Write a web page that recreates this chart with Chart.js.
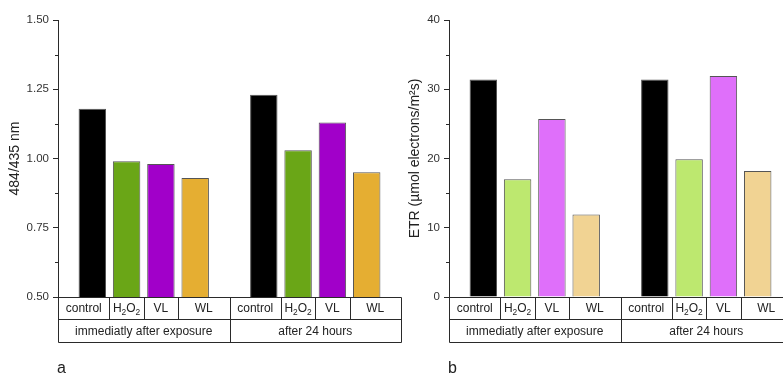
<!DOCTYPE html>
<html>
<head>
<meta charset="utf-8">
<script src="https://cdn.jsdelivr.net/npm/chart.js@4"></script>
<style>
  html, body { margin: 0; padding: 0; background: #fff; overflow: hidden; width: 783px; height: 377px; }
  canvas { position: absolute; top: 0; }
  #chart-a { left: 0; }
  #chart-b { left: 391px; }
</style>
</head>
<body>
<canvas id="chart-a" width="410" height="377"></canvas>
<canvas id="chart-b" width="410" height="377"></canvas>
<script>
// slots on the x axis; empty strings are the gaps between groups
const categories = ['', 'control', 'H₂O₂', 'VL', 'WL', '', 'control', 'H₂O₂', 'VL', 'WL', ''];
const groups = ['immediatly after exposure', 'after 24 hours'];

// panel a: 484/435 nm ratio
const ratioValues = [null, 1.18, 0.99, 0.98, 0.93, null, 1.23, 1.03, 1.13, 0.95, null];
const ratioColors = ['#000', '#000000', '#6aa617', '#a100c9', '#e5ae32', '#000', '#000000', '#6aa617', '#a100c9', '#e5ae32', '#000'];

// panel b: ETR
const etrValues = [null, 31.4, 17.0, 25.7, 11.9, null, 31.4, 19.9, 31.9, 18.2, null];
const etrColors = ['#000', '#000000', '#bde86f', '#df6ffa', '#f1d393', '#000', '#000000', '#bde86f', '#df6ffa', '#f1d393', '#000'];

const FONT = 'Arial, "Liberation Sans", sans-serif';
const LINE = '#2a2a2a';

// draw text, with ₂ drawn as a small lowered 2
function drawRich(ctx, text, cx, cy, size) {
    const parts = [];
    for (const ch of text) {
        const sub = ch === '₂';
        parts.push({ t: sub ? '2' : ch, sub: sub });
    }
    const widthOf = p => {
        ctx.font = (p.sub ? size * 0.7 : size) + 'px ' + FONT;
        return ctx.measureText(p.t).width;
    };
    const total = parts.reduce((s, p) => s + widthOf(p), 0);
    let x = cx - total / 2;
    ctx.textAlign = 'left';
    ctx.textBaseline = 'middle';
    parts.forEach(p => {
        const w = widthOf(p);
        ctx.fillText(p.t, x, p.sub ? cy + size * 0.3 : cy);
        x += w;
    });
}

// category table under the plot, minor ticks and panel letter
const tablePlugin = {
    id: 'tablePlugin',
    afterDraw(chart, args, opts) {
        const ctx = chart.ctx;
        const xs = chart.scales.x;
        const ys = chart.scales.y;
        const area = chart.chartArea;
        const row1 = area.bottom + 22;
        const row2 = row1 + 23;
        const px = v => Math.round(xs.getPixelForValue(v)) + 0.5;

        ctx.save();
        ctx.strokeStyle = LINE;
        ctx.lineWidth = 1;
        ctx.fillStyle = '#222';

        // minor ticks
        const step = opts.step;
        for (let v = ys.min + step / 2; v < ys.max; v += step) {
            const y = Math.round(ys.getPixelForValue(v)) + 0.5;
            ctx.beginPath();
            ctx.moveTo(area.left - 3, y);
            ctx.lineTo(area.left, y);
            ctx.stroke();
        }

        // cell edges: empty slots and midpoints between labelled slots
        const edges = [];
        categories.forEach((c, i) => {
            if (c === '') edges.push(i);
            else if (i + 1 < categories.length && categories[i + 1] !== '') edges.push(i + 0.5);
        });
        const gapEdges = categories.map((c, i) => c === '' ? i : null).filter(v => v !== null);

        // horizontal lines
        const left = px(0), right = px(categories.length - 1);
        [area.bottom, row1, row2].forEach(y => {
            const yy = Math.round(y) + 0.5;
            ctx.beginPath();
            ctx.moveTo(left, yy);
            ctx.lineTo(right, yy);
            ctx.stroke();
        });
        // vertical lines
        edges.forEach(e => {
            const x = px(e);
            const isGap = gapEdges.includes(e);
            ctx.beginPath();
            ctx.moveTo(x, Math.round(area.bottom) + 0.5);
            ctx.lineTo(x, Math.round(isGap ? row2 : row1) + 0.5);
            ctx.stroke();
        });

        // labels row 1
        categories.forEach((c, i) => {
            if (c === '') return;
            const a = edges.filter(e => e < i).pop();
            const b = edges.find(e => e > i);
            drawRich(ctx, c, (xs.getPixelForValue(a) + xs.getPixelForValue(b)) / 2, (area.bottom + row1) / 2 + 1, 12);
        });
        // labels row 2
        groups.forEach((g, k) => {
            const a = gapEdges[k], b = gapEdges[k + 1];
            drawRich(ctx, g, (xs.getPixelForValue(a) + xs.getPixelForValue(b)) / 2, (row1 + row2) / 2 + 1, 12);
        });

        // panel letter
        ctx.font = '16px ' + FONT;
        ctx.textAlign = 'left';
        ctx.textBaseline = 'alphabetic';
        ctx.fillText(opts.letter, area.left - 1, 373);
        ctx.restore();
    }
};

function makeChart(id, values, colors, yMin, yMax, step, decimals, title, titlePad, letter) {
    return new Chart(document.getElementById(id), {
        type: 'bar',
        data: {
            labels: categories,
            datasets: [{
                data: values,
                backgroundColor: colors,
                borderColor: '#555',
                borderWidth: 1,
                barPercentage: 0.8,
                categoryPercentage: 1.0
            }]
        },
        options: {
            responsive: false,
            animation: false,
            devicePixelRatio: 1,
            layout: { padding: { left: 0, top: 20, right: 9, bottom: 80 } },
            plugins: {
                legend: { display: false },
                tooltip: { enabled: false },
                tablePlugin: { step: step, letter: letter }
            },
            scales: {
                x: { type: 'category', offset: false, display: false },
                y: {
                    min: yMin,
                    max: yMax,
                    afterFit: scale => { scale.width = 58; },
                    border: { display: true, color: LINE, width: 1 },
                    grid: { drawOnChartArea: false, drawTicks: true, tickLength: 5, tickColor: LINE },
                    ticks: {
                        stepSize: step,
                        padding: 4,
                        color: '#333',
                        font: { family: FONT, size: 11.5 },
                        callback: v => Number(v).toFixed(decimals)
                    },
                    title: {
                        display: true,
                        text: title,
                        color: '#222',
                        font: { family: FONT, size: 14 },
                        padding: { top: titlePad, bottom: 0 }
                    }
                }
            }
        },
        plugins: [tablePlugin]
    });
}

makeChart('chart-a', ratioValues, ratioColors, 0.5, 1.5, 0.25, 2, '484/435 nm', 7, 'a');
makeChart('chart-b', etrValues, etrColors, 0, 40, 10, 0, 'ETR (µmol electrons/m²s)', 16, 'b');
</script>
</body>
</html>
